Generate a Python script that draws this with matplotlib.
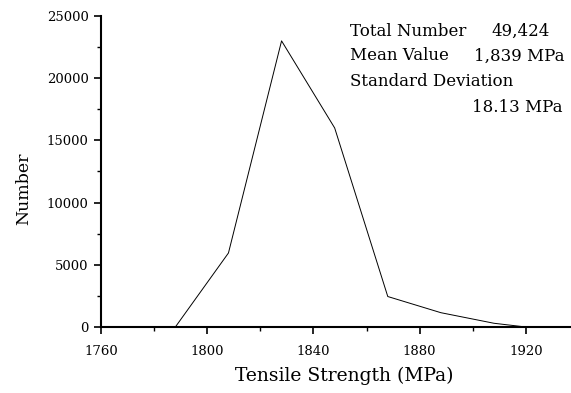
import matplotlib
matplotlib.use("Agg")
import matplotlib.pyplot as plt
from matplotlib.ticker import MultipleLocator

# tensile strength distribution
strength = [1788, 1808, 1828, 1848, 1868, 1888, 1908, 1920]
count = [0, 5950, 23000, 16000, 2450, 1150, 300, 0]

x_ticks = [1760, 1800, 1840, 1880, 1920]
y_ticks = [0, 5000, 10000, 15000, 20000, 25000]

stats_lines = [
    ("Total Number", "49,424"),
    ("Mean Value", "1,839 MPa"),
]

plt.rcParams["font.family"] = "DejaVu Serif"

fig = plt.figure(figsize=(5.71, 3.93), dpi=100)
ax = fig.add_axes([101 / 571, 1 - 327 / 393, (571 - 101) / 571, (327 - 16) / 393])

ax.plot(strength, count, color="black", linewidth=0.7)

ax.set_xlim(1760, 1937)
ax.set_ylim(0, 25000)
ax.set_xticks(x_ticks)
ax.set_yticks(y_ticks)
ax.xaxis.set_minor_locator(MultipleLocator(20))
ax.yaxis.set_minor_locator(MultipleLocator(2500))
ax.tick_params(which="major", direction="out", length=5, width=1.2, labelsize=9.5)
ax.tick_params(axis="x", which="major", pad=8)
ax.tick_params(axis="y", which="major", pad=4)
ax.tick_params(which="minor", direction="out", length=3, width=1.0)

for side in ["top", "right"]:
    ax.spines[side].set_visible(False)
for side in ["left", "bottom"]:
    ax.spines[side].set_linewidth(1.5)

ax.set_xlabel("Tensile Strength (MPa)", fontsize=13.5)
ax.xaxis.set_label_coords((344 - 101) / 470, (327 - 367) / 311)
ax.set_ylabel("Number", fontsize=12.5)
ax.yaxis.set_label_coords((32 - 101) / 470, (327 - 189) / 311)

# stats box in upper right
fs = 12
fig.text(350 / 571, 1 - 31 / 393, stats_lines[0][0], fontsize=fs, va="center")
fig.text(550 / 571, 1 - 31 / 393, stats_lines[0][1], fontsize=fs, va="center", ha="right")
fig.text(350 / 571, 1 - 56 / 393, stats_lines[1][0], fontsize=fs, va="center")
fig.text(564 / 571, 1 - 56 / 393, stats_lines[1][1], fontsize=fs, va="center", ha="right")
fig.text(350 / 571, 1 - 82 / 393, "Standard Deviation", fontsize=fs, va="center")
fig.text(562 / 571, 1 - 108 / 393, "18.13 MPa", fontsize=fs, va="center", ha="right")

fig.savefig("out.png", dpi=100)
